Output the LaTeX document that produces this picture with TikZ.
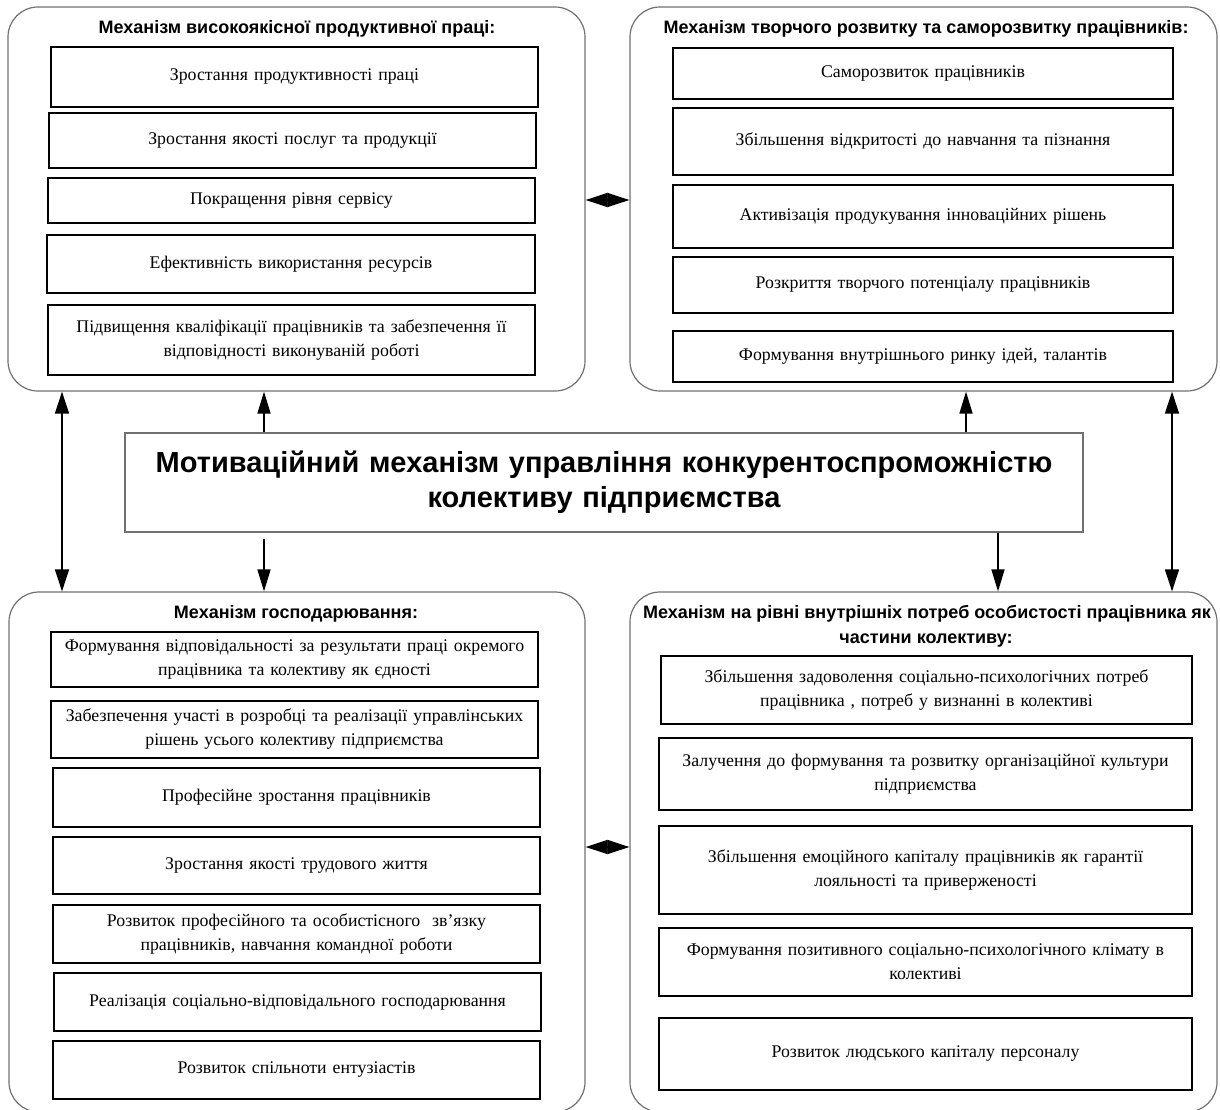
\documentclass[tikz,border=0pt]{standalone}
\usepackage{fontspec}
\setmainfont{Liberation Serif}
\newfontfamily\hdfont{Liberation Sans}
\usetikzlibrary{arrows.meta}
\definecolor{frame}{HTML}{707070}
\begin{document}
\begin{tikzpicture}[x=1pt,y=-1pt,
  cont/.style={draw=frame, line width=1.2pt, rounded corners=30pt, inner sep=0pt},
  ib/.style={draw=black, line width=1.8pt, align=center, inner sep=0pt,
    font=\fontsize{17.8}{24}\selectfont},
  ttl/.style={font=\hdfont\bfseries\fontsize{18}{25}\selectfont, align=center, inner sep=0pt},
  cen/.style={draw=frame, line width=1.2pt, align=center, inner sep=0pt,
    font=\hdfont\bfseries\fontsize{29}{35}\selectfont},
  arr/.style={line width=1.5pt, -{Triangle[length=22pt,width=13pt]}},
  darr/.style={line width=1.5pt, {Triangle[length=22pt,width=14pt]}-{Triangle[length=22pt,width=14pt]}}
]
\useasboundingbox (0,0) rectangle (1220,1109);

% containers
\node[cont, minimum width=577pt, minimum height=384pt] (TL) at (296.5,199) {};
\node[cont, minimum width=587pt, minimum height=384pt] (TR) at (923.5,199) {};
\node[cont, minimum width=576pt, minimum height=520pt] (BL) at (297,852) {};
\node[cont, minimum width=587pt, minimum height=520pt] (BR) at (923.5,852) {};

% central
\node[cen, minimum width=958pt, minimum height=99pt, text width=945pt] (C) at (604,482.5)
  {Мотиваційний механізм управління конкурентоспроможністю\\колективу підприємства};

% titles
\node[ttl, anchor=base] (tTL) at (297,33) {Механізм високоякісної продуктивної праці:};
\node[ttl, anchor=base] (tTR) at (926,33) {Механізм творчого розвитку та саморозвитку працівників:};
\node[ttl, anchor=base] (tBL) at (296,618) {Механізм господарювання:};
\node[ttl, anchor=base] (tBR1) at (927,618) {Механізм на рівні внутрішніх потреб особистості працівника як};
\node[ttl, anchor=base] (tBR2) at (926,643) {частини колективу:};

% TL boxes
\node[ib, minimum width=487pt, minimum height=60pt, text width=475pt] (a1) at (294.5,77) {Зростання продуктивності праці};
\node[ib, minimum width=487pt, minimum height=55pt, text width=475pt] (a2) at (292.5,140.5) {Зростання якості послуг та продукції};
\node[ib, minimum width=487pt, minimum height=45pt, text width=475pt] (a3) at (291.5,200.5) {Покращення рівня сервісу};
\node[ib, minimum width=488pt, minimum height=58pt, text width=475pt] (a4) at (291,264) {Ефективність використання ресурсів};
\node[ib, minimum width=487pt, minimum height=70pt, text width=475pt] (a5) at (291.5,340) {Підвищення кваліфікації працівників та забезпечення її\\відповідності виконуваній роботі};

% TR boxes
\node[ib, minimum width=500pt, minimum height=51pt, text width=485pt] (b1) at (923,73.5) {Саморозвиток працівників};
\node[ib, minimum width=500pt, minimum height=67pt, text width=485pt] (b2) at (923,141.5) {Збільшення відкритості до навчання та пізнання};
\node[ib, minimum width=500pt, minimum height=63pt, text width=485pt] (b3) at (923,216.5) {Активізація продукування інноваційних рішень};
\node[ib, minimum width=500pt, minimum height=56pt, text width=485pt] (b4) at (923,285) {Розкриття творчого потенціалу працівників};
\node[ib, minimum width=500pt, minimum height=51pt, text width=485pt] (b5) at (923,356.5) {Формування внутрішнього ринку ідей, талантів};

% BL boxes
\node[ib, minimum width=487pt, minimum height=55pt, text width=480pt] (c1) at (294.5,659.5) {Формування відповідальності за результати праці окремого\\працівника та колективу як єдності};
\node[ib, minimum width=487pt, minimum height=57pt, text width=480pt] (c2) at (294.5,729.5) {Забезпечення участі в розробці та реалізації управлінських\\рішень усього колективу підприємства};
\node[ib, minimum width=487pt, minimum height=59pt, text width=480pt] (c3) at (296.5,797.5) {Професійне зростання працівників};
\node[ib, minimum width=487pt, minimum height=57pt, text width=480pt] (c4) at (296.5,865.5) {Зростання якості трудового життя};
\node[ib, minimum width=487pt, minimum height=58pt, text width=480pt] (c5) at (296.5,934) {Розвиток професійного та особистісного \ зв'язку\\працівників, навчання командної роботи};
\node[ib, minimum width=487pt, minimum height=58pt, text width=480pt] (c6) at (297.5,1002) {Реалізація соціально-відповідального господарювання};
\node[ib, minimum width=487pt, minimum height=58pt, text width=480pt] (c7) at (296.5,1070) {Розвиток спільноти ентузіастів};

% BR boxes
\node[ib, minimum width=531pt, minimum height=68pt, text width=520pt] (d1) at (926.5,690) {Збільшення задоволення соціально-психологічних потреб\\працівника , потреб у визнанні в колективі};
\node[ib, minimum width=533pt, minimum height=72pt, text width=520pt] (d2) at (925.5,774) {Залучення до формування та розвитку організаційної культури\\підприємства};
\node[ib, minimum width=533pt, minimum height=88pt, text width=520pt] (d3) at (925.5,870) {Збільшення емоційного капіталу працівників як гарантії\\лояльності та приверженості};
\node[ib, minimum width=533pt, minimum height=68pt, text width=520pt] (d4) at (925.5,962) {Формування позитивного соціально-психологічного клімату в\\колективі};
\node[ib, minimum width=533pt, minimum height=72pt, text width=520pt] (d5) at (925.5,1054) {Розвиток людського капіталу персоналу};

% connector x/y guides
\coordinate (xa) at (62,0);
\coordinate (xb) at (264,0);
\coordinate (xc) at (966,0);
\coordinate (xd) at (998,0);
\coordinate (xe) at (1172,0);
\coordinate (yt) at (0,200);
\coordinate (yb) at (0,847);

% connectors
\draw[darr] (TL.south -| xa) -- (BL.north -| xa);
\draw[arr] (C.north -| xb) -- (TL.south -| xb);
\draw[arr, shorten <=6pt] (C.south -| xb) -- (BL.north -| xb);
\draw[arr] (C.north -| xc) -- (TR.south -| xc);
\draw[arr] (C.south -| xd) -- (BR.north -| xd);
\draw[darr] (TR.south -| xe) -- (BR.north -| xe);
\draw[darr] (TL.east |- yt) -- (TR.west |- yt);
\draw[darr] (BL.east |- yb) -- (BR.west |- yb);
\end{tikzpicture}
\end{document}
